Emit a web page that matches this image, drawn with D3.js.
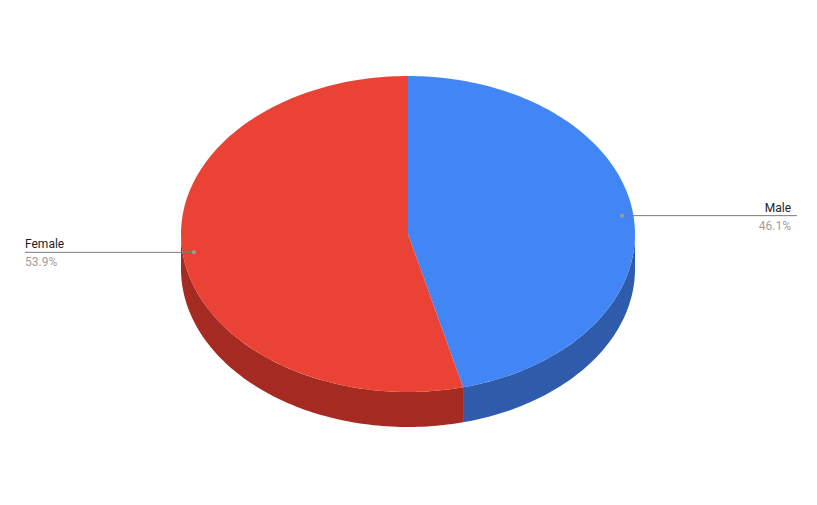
<!DOCTYPE html>
<html>
<head>
<meta charset="utf-8">
<title>Gender pie</title>
<script src="https://d3js.org/d3.v7.min.js"></script>
<style>
  body { margin: 0; background: #fff; }
  text { font-family: Roboto, Arial, sans-serif; font-size: 12px; }
</style>
</head>
<body>
<svg id="chart"></svg>
<script>
// data
var labels = ["Male", "Female"];
var values = [46.1, 53.9];
var topColors = ["#4285f4", "#ea4335"];
var sideColors = ["#2e5cab", "#a52b22"];

var width = 817, height = 505;
var cx = 408, cy = 234, rx = 227, ry = 158, depth = 35;

var svg = d3.select("#chart").attr("width", width).attr("height", height);

var pie = d3.pie().sort(null).value(function(d) { return d; });
var arcs = pie(values);

// point on the ellipse for a pie angle (0 = top, clockwise)
function pt(a, k, dy) {
  k = k || 1; dy = dy || 0;
  return [cx + k * rx * Math.sin(a), cy - k * ry * Math.cos(a) + dy];
}

function sample(a0, a1, dy) {
  var n = Math.max(2, Math.ceil(Math.abs(a1 - a0) / 0.02));
  return d3.range(n + 1).map(function(i) { return pt(a0 + (a1 - a0) * i / n, 1, dy); });
}

var line = d3.line();

// visible side walls (front half of ellipse, angles PI/2 .. 3PI/2)
arcs.forEach(function(d, i) {
  var a0 = Math.max(d.startAngle, Math.PI / 2);
  var a1 = Math.min(d.endAngle, 3 * Math.PI / 2);
  if (a1 <= a0) return;
  var pts = sample(a0, a1, 0).concat(sample(a1, a0, depth));
  svg.append("path")
    .attr("d", line(pts) + "Z")
    .attr("fill", sideColors[i]);
});

// top faces
arcs.forEach(function(d, i) {
  var pts = [[cx, cy]].concat(sample(d.startAngle, d.endAngle, 0));
  svg.append("path")
    .attr("d", line(pts) + "Z")
    .attr("fill", topColors[i]);
});

// labels with leader lines
var labelPos = [
  { side: "right", x: 797 },
  { side: "left", x: 25 }
];

arcs.forEach(function(d, i) {
  var mid = (d.startAngle + d.endAngle) / 2;
  var p = pt(mid, 0.95);
  var lp = labelPos[i];
  var g = svg.append("g");
  g.append("line")
    .attr("x1", p[0]).attr("y1", p[1])
    .attr("x2", lp.x).attr("y2", p[1])
    .attr("stroke", "#7a7a7a").attr("stroke-width", 1);
  g.append("circle")
    .attr("cx", p[0]).attr("cy", p[1]).attr("r", 2)
    .attr("fill", "#9e9e9e");
  var tx = lp.side === "right" ? lp.x - 6 : lp.x;
  var anchor = lp.side === "right" ? "end" : "start";
  g.append("text")
    .attr("x", tx).attr("y", p[1] - 4)
    .attr("text-anchor", anchor)
    .attr("fill", "#222")
    .text(labels[i]);
  g.append("text")
    .attr("x", tx).attr("y", p[1] + 14)
    .attr("text-anchor", anchor)
    .attr("fill", "#9e9e9e")
    .text(d3.format(".1f")(values[i]) + "%");
});
</script>
</body>
</html>
